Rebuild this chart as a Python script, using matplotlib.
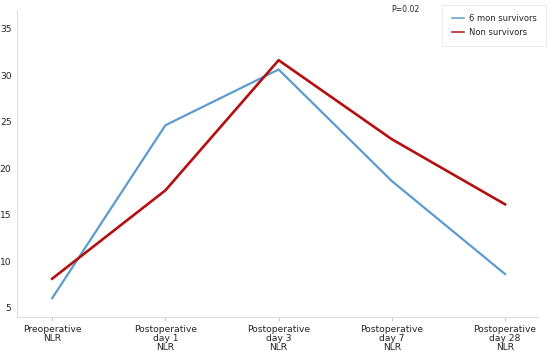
import matplotlib

matplotlib.use('Agg')

import matplotlib.pyplot as plt

# подписи по оси X
categories = ['Preoperative\nNLR', 'Postoperative\nday 1\nNLR', 'Postoperative\nday 3\nNLR',
              'Postoperative\nday 7\nNLR', 'Postoperative\nday 28\nNLR']

# значения серий
survivors = [6.0, 24.6, 30.6, 18.6, 8.6]
non_survivors = [8.1, 17.6, 31.6, 23.1, 16.1]

y_ticks = [5, 10, 15, 20, 25, 30, 35]

fig = plt.figure(figsize=(5.5, 3.56), dpi=100)
ax = fig.add_axes([0.031, 0.110, 0.947, 0.862])

x = list(range(len(categories)))
ax.plot(x, survivors, color='#5b9bd0', linewidth=1.6, label='6 mon survivors')
ax.plot(x, non_survivors, color='#b3100f', linewidth=1.9, label='Non survivors')

ax.set_xlim(-0.31, 4.29)
ax.set_ylim(4.0, 37.0)
ax.set_xticks(x)
ax.set_xticklabels(categories, fontsize=6.6, color='#222222', linespacing=1.0)
ax.set_yticks(y_ticks)
ax.set_yticklabels([str(t) for t in y_ticks], fontsize=6.6, color='#222222')

for side in ['top', 'right']:
    ax.spines[side].set_visible(False)
for side in ['left', 'bottom']:
    ax.spines[side].set_color('#dddddd')
    ax.spines[side].set_linewidth(0.8)

ax.tick_params(axis='x', length=3, color='#cccccc', pad=3)
ax.tick_params(axis='y', length=0, pad=4)

fig.text(0.737, 0.972, 'P=0.02', fontsize=5.6, ha='center', va='center', color='#222222')

leg = fig.legend(loc='upper right', bbox_to_anchor=(0.993, 0.986), fontsize=6.0,
                 frameon=True, fancybox=False, borderpad=1.1, labelspacing=0.55,
                 handlelength=1.5, handletextpad=0.6, borderaxespad=0)
leg.get_frame().set_edgecolor('#e0e0e0')
leg.get_frame().set_linewidth(0.6)
for line in leg.get_lines():
    line.set_linewidth(1.1)
for txt in leg.get_texts():
    txt.set_color('#222222')

fig.savefig('out.png', dpi=100)
